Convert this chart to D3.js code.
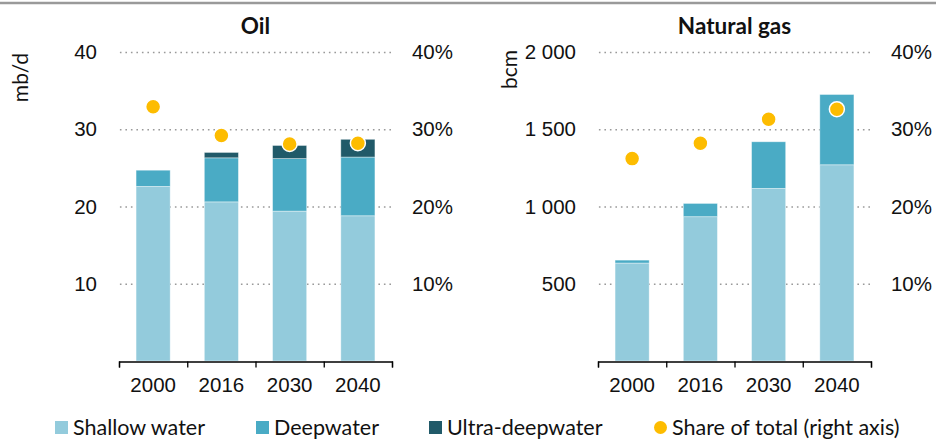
<!DOCTYPE html>
<html>
<head>
<meta charset="utf-8">
<script src="https://cdn.jsdelivr.net/npm/d3@7"></script>
<style>
  body { margin: 0; background: #fff; }
  svg { font-family: Lato, "Noto Sans", sans-serif; }
  .grid line { stroke: #9a9a9a; stroke-width: 1.5; stroke-dasharray: 1.6,3.9; }
  .grid path { display: none; }
  .lbl text { font-size: 20.5px; fill: #111; }
  .lbl path, .lbl line { display: none; }
</style>
</head>
<body>
<div id="container"></div>
<script>
/* DATA */
const years = ["2000", "2016", "2030", "2040"];
const seriesNames = ["Shallow water", "Deepwater", "Ultra-deepwater"];
const shareName = "Share of total (right axis)";

const oilShallow = [22.6, 20.6, 19.4, 18.8];
const oilDeep = [2.1, 5.7, 6.8, 7.6];
const oilUltra = [0, 0.7, 1.7, 2.3];
const oilShare = [0.329, 0.292, 0.281, 0.282];

const gasShallow = [634, 934, 1117, 1270];
const gasDeep = [19, 86, 302, 455];
const gasUltra = [0, 0, 0, 0];
const gasShare = [0.262, 0.282, 0.313, 0.326];

const oilTicks = [10, 20, 30, 40];
const gasTicks = [500, 1000, 1500, 2000];
const shareTicks = [0.1, 0.2, 0.3, 0.4];

/* CONSTANTS */
const width = 936;
const height = 440;
const colors = ["#93cbdc", "#4aabc5", "#215a69"];
const dotColor = "#fdbc00";
const yTop = 52, yBase = 361;

const spaceFmt = d3.formatLocale({ decimal: ".", thousands: "\u00a0", grouping: [3], currency: ["", ""] }).format(",");

const svg = d3.select("#container")
  .append("svg")
  .attr("width", width)
  .attr("height", height);

// top rule
svg.append("line")
  .attr("x1", 0).attr("x2", width)
  .attr("y1", 3).attr("y2", 3)
  .attr("stroke", "#9a9a9a")
  .attr("stroke-width", 2.5);

function drawPanel(p) {
  const rows = years.map((y, i) => ({
    year: y,
    "Shallow water": p.shallow[i],
    "Deepwater": p.deep[i],
    "Ultra-deepwater": p.ultra[i],
    share: p.share[i]
  }));

  const x = d3.scaleBand()
    .domain(years)
    .range([p.x0, p.x1])
    .paddingInner(0.5)
    .paddingOuter(0.25);

  const y = d3.scaleLinear()
    .domain([0, p.max])
    .range([yBase, yTop]);

  const yR = d3.scaleLinear()
    .domain([0, 0.4])
    .range([yBase, yTop]);

  // gridlines
  svg.append("g")
    .attr("class", "grid")
    .attr("transform", `translate(${p.x1 - 1},0)`)
    .call(d3.axisLeft(y).tickValues(p.ticks).tickSize(p.x1 - p.x0).tickFormat(""));

  // left labels
  svg.append("g")
    .attr("class", "lbl")
    .attr("transform", `translate(${p.leftLbl},0)`)
    .call(d3.axisLeft(y).tickValues(p.ticks).tickSize(0).tickPadding(0).tickFormat(p.fmt));

  // right labels
  svg.append("g")
    .attr("class", "lbl")
    .attr("transform", `translate(${p.rightLbl},0)`)
    .call(d3.axisLeft(yR).tickValues(shareTicks).tickSize(0).tickPadding(0).tickFormat(d3.format(".0%")));

  // stacked bars
  const stack = d3.stack().keys(seriesNames)(rows);
  svg.append("g")
    .selectAll("g")
    .data(stack)
    .join("g")
    .attr("fill", (d, i) => colors[i])
    .selectAll("rect")
    .data(d => d.filter(s => s[1] - s[0] > 0))
    .join("rect")
    .attr("x", d => x(d.data.year))
    .attr("width", x.bandwidth())
    .attr("y", d => y(d[1]))
    .attr("height", d => y(d[0]) - y(d[1]))
    .attr("stroke", "#fff")
    .attr("stroke-opacity", 0.5)
    .attr("stroke-width", 0.8);

  // x axis: boundary ticks + centred labels
  const edges = d3.scaleLinear().domain([0, years.length]).range([p.x0, p.x1]);
  svg.append("g")
    .attr("transform", `translate(0,${yBase + 0.5})`)
    .call(d3.axisBottom(edges).ticks(years.length).tickSize(6).tickSizeOuter(6).tickFormat(""))
    .call(g => g.selectAll("line, path").attr("stroke", "#000").attr("stroke-width", 1.3));

  svg.append("g")
    .attr("class", "lbl")
    .attr("transform", `translate(0,${yBase})`)
    .call(d3.axisBottom(x).tickSize(0).tickPadding(16));

  // share dots
  svg.append("g")
    .selectAll("circle")
    .data(rows)
    .join("circle")
    .attr("cx", d => x(d.year) + x.bandwidth() / 2)
    .attr("cy", d => yR(d.share))
    .attr("r", 7.5)
    .attr("fill", dotColor)
    .attr("stroke", "#fff")
    .attr("stroke-width", 1.5);

  // title
  svg.append("text")
    .attr("x", (p.x0 + p.x1) / 2)
    .attr("y", 34)
    .attr("text-anchor", "middle")
    .style("font-size", "22.5px")
    .style("font-weight", "bold")
    .attr("fill", "#111")
    .text(p.title);

  // unit
  svg.append("text")
    .attr("transform", `translate(${p.unitX},${p.unitY}) rotate(-90)`)
    .attr("text-anchor", "end")
    .style("font-size", "21px")
    .attr("fill", "#111")
    .text(p.unit);
}

drawPanel({
  title: "Oil", unit: "mb/d", unitX: 28, unitY: 53,
  shallow: oilShallow, deep: oilDeep, ultra: oilUltra, share: oilShare,
  max: 40, ticks: oilTicks, fmt: d3.format("d"),
  x0: 119, x1: 392, leftLbl: 97, rightLbl: 453
});

drawPanel({
  title: "Natural gas", unit: "bcm", unitX: 517, unitY: 50,
  shallow: gasShallow, deep: gasDeep, ultra: gasUltra, share: gasShare,
  max: 2000, ticks: gasTicks, fmt: spaceFmt,
  x0: 598, x1: 871, leftLbl: 576, rightLbl: 932
});

/* LEGEND */
const legendItems = [
  { name: seriesNames[0], color: colors[0], x: 55, type: "rect" },
  { name: seriesNames[1], color: colors[1], x: 256, type: "rect" },
  { name: seriesNames[2], color: colors[2], x: 429, type: "rect" },
  { name: shareName, color: dotColor, x: 654, type: "dot" }
];

const legend = svg.append("g").attr("class", "legend");
const item = legend.selectAll("g")
  .data(legendItems)
  .join("g")
  .attr("transform", d => `translate(${d.x},421)`);

item.filter(d => d.type === "rect")
  .append("rect")
  .attr("width", 13).attr("height", 13)
  .attr("fill", d => d.color);

item.filter(d => d.type === "dot")
  .append("circle")
  .attr("cx", 6.5).attr("cy", 6.5).attr("r", 6.5)
  .attr("fill", d => d.color);

item.append("text")
  .attr("x", 18)
  .attr("y", 13.5)
  .style("font-size", "21.5px")
  .attr("fill", "#111")
  .text(d => d.name);
</script>
</body>
</html>
